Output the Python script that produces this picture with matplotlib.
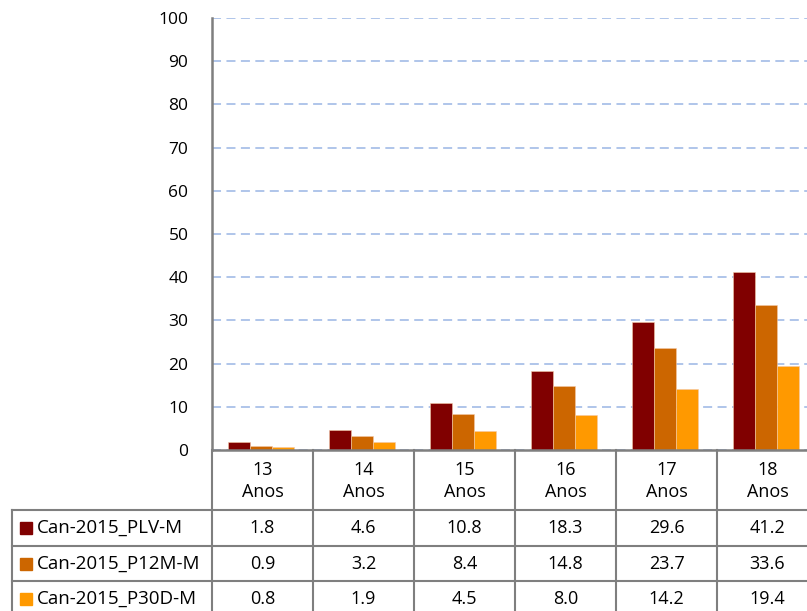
import numpy as np
import matplotlib.pyplot as plt
from matplotlib.patches import Rectangle

plt.rcParams['font.family'] = ['Open Sans', 'DejaVu Sans']

categories = ["13\nAnos", "14\nAnos", "15\nAnos", "16\nAnos", "17\nAnos", "18\nAnos"]
series_names = ["Can-2015_PLV-M", "Can-2015_P12M-M", "Can-2015_P30D-M"]
plv = [1.8, 4.6, 10.8, 18.3, 29.6, 41.2]
p12m = [0.9, 3.2, 8.4, 14.8, 23.7, 33.6]
p30d = [0.8, 1.9, 4.5, 8.0, 14.2, 19.4]
table_text = [
    ["1.8", "4.6", "10.8", "18.3", "29.6", "41.2"],
    ["0.9", "3.2", "8.4", "14.8", "23.7", "33.6"],
    ["0.8", "1.9", "4.5", "8.0", "14.2", "19.4"],
]
yticks = list(range(0, 101, 10))
colors = ["#800000", "#CC6600", "#FF9900"]
GRAY = "#7f7f7f"

W, H = 807, 611
fig = plt.figure(figsize=(W / 100, H / 100), dpi=100)

# bar chart
ax = fig.add_axes([212 / W, 161 / H, 606 / W, 432 / H])
x = np.arange(len(categories))
bw = 0.218
for i, vals in enumerate([plv, p12m, p30d]):
    ax.bar(x + (i - 1) * bw - 0.015, vals, width=bw, color=colors[i],
           edgecolor="#f3c9a8", linewidth=0.4, zorder=3)

ax.set_xlim(-0.5, 5.5)
ax.set_ylim(0, 100)
ax.set_yticks(yticks)
ax.set_xticks([])
ax.yaxis.grid(True, color="#a9c0e8", linestyle=(0, (5, 3)), linewidth=1.3)
ax.tick_params(axis="y", length=0, pad=17, labelsize=12.5)
for s in ["top", "right"]:
    ax.spines[s].set_visible(False)
ax.spines["left"].set_color(GRAY)
ax.spines["left"].set_linewidth(1.8)
ax.spines["bottom"].set_color(GRAY)
ax.spines["bottom"].set_linewidth(1.8)
ax.spines["bottom"].set_zorder(5)

# data table below the chart
hdr = 1.69
nrows = len(series_names)
left = -0.5 - 200 / 101
ta = fig.add_axes([12 / W, -6 / H, 806 / W, 167 / H])
ta.set_xlim(left, 5.5)
ta.set_ylim(hdr + nrows, 0)
ta.axis("off")

for j, lab in enumerate(categories):
    ta.text(j, hdr / 2 + 0.02, lab, ha="center", va="center", fontsize=13,
            linespacing=1.3)
for k in range(len(categories) + 1):
    ta.plot([k - 0.5, k - 0.5], [0, hdr + nrows], color=GRAY, lw=1.5,
            clip_on=False)
ta.plot([left, left], [hdr, hdr + nrows], color=GRAY, lw=1.5, clip_on=False)
for r in range(nrows + 1):
    ta.plot([left, 5.5], [hdr + r, hdr + r], color=GRAY, lw=1.5, clip_on=False)

for r, name in enumerate(series_names):
    yc = hdr + r + 0.5
    ta.add_patch(Rectangle((left + 8 / 101, yc - 0.17), 12 / 101, 0.34,
                           color=colors[r], clip_on=False))
    ta.text(left + 25 / 101, yc, name, ha="left", va="center", fontsize=13.5)
    for j, val in enumerate(table_text[r]):
        ta.text(j, yc, val, ha="center", va="center", fontsize=13)

fig.savefig("out.png", dpi=100)
